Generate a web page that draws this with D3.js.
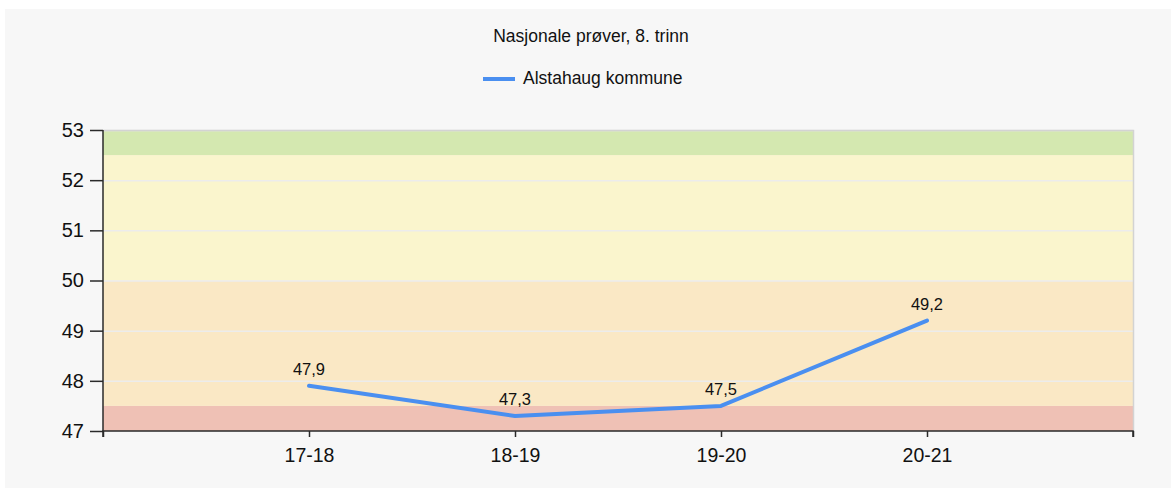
<!DOCTYPE html>
<html>
<head>
<meta charset="utf-8">
<script src="https://cdn.jsdelivr.net/npm/d3@7"></script>
<style>
  html, body { margin: 0; padding: 0; background: #fff; }
  svg { display: block; font-family: "Liberation Sans", Arial, sans-serif; }
</style>
</head>
<body>
<svg id="chart" width="1171" height="488"></svg>
<script>
// Data
const title = "Nasjonale prøver, 8. trinn";
const seriesName = "Alstahaug kommune";
const years = ["17-18", "18-19", "19-20", "20-21"];
const values = [47.9, 47.3, 47.5, 49.2];
const yTicks = [47, 48, 49, 50, 51, 52, 53];
// colored background bands (from, to, colour)
const bandFrom = [47, 47.5, 50, 52.5];
const bandTo = [47.5, 50, 52.5, 53];
const bandColors = ["#efc1b5", "#fae8c5", "#faf5cd", "#d4e8b0"];

const svg = d3.select("#chart");
const width = +svg.attr("width");
const height = +svg.attr("height");

// light grey panel
svg.append("rect")
  .attr("x", 5).attr("y", 9)
  .attr("width", width - 5).attr("height", height - 9)
  .attr("fill", "#f7f7f7");

const plotLeft = 103, plotRight = 1133, plotTop = 130, plotBottom = 431;

// blank slots at both ends so the categories sit inside the axis
const x = d3.scalePoint()
  .domain(["_a", ...years, "_b"])
  .range([plotLeft, plotRight]);

const y = d3.scaleLinear()
  .domain([47, 53])
  .range([plotBottom, plotTop]);

// bands
svg.selectAll("rect.band")
  .data(bandFrom)
  .enter()
  .append("rect")
  .attr("class", "band")
  .attr("x", plotLeft)
  .attr("width", plotRight - plotLeft)
  .attr("y", (d, i) => y(bandTo[i]))
  .attr("height", (d, i) => y(d) - y(bandTo[i]))
  .attr("fill", (d, i) => bandColors[i]);

// gridlines
svg.selectAll("line.grid")
  .data(yTicks.slice(1))
  .enter()
  .append("line")
  .attr("class", "grid")
  .attr("x1", plotLeft).attr("x2", plotRight)
  .attr("y1", d => y(d) + 0.5).attr("y2", d => y(d) + 0.5)
  .attr("stroke", "#ececec")
  .attr("stroke-width", 1.5);

// top and right frame
svg.append("path")
  .attr("d", `M${plotLeft},${plotTop + 0.5}H${plotRight + 0.5}V${plotBottom}`)
  .attr("fill", "none")
  .attr("stroke", "#d3d3d3")
  .attr("stroke-width", 1.5);

// y axis
const yAxis = svg.append("g")
  .attr("transform", `translate(${plotLeft},0)`)
  .call(d3.axisLeft(y).tickValues(yTicks).tickSize(13).tickPadding(6).tickFormat(d3.format("d")));
yAxis.selectAll("text")
  .attr("font-size", 20)
  .attr("fill", "#111")
  .attr("font-family", "Liberation Sans, Arial, sans-serif");
yAxis.selectAll("line, path").attr("stroke", "#2a2a2a").attr("stroke-width", 1.5);
yAxis.select("path").attr("d", `M0,${plotTop}V${plotBottom}`);

// x axis
const xAxis = svg.append("g")
  .attr("transform", `translate(0,${plotBottom})`)
  .call(d3.axisBottom(x).tickSize(6).tickPadding(11).tickFormat(d => d.startsWith("_") ? "" : d));
xAxis.selectAll("text")
  .attr("font-size", 19.5)
  .attr("fill", "#111")
  .attr("font-family", "Liberation Sans, Arial, sans-serif");
xAxis.selectAll("line, path").attr("stroke", "#2a2a2a").attr("stroke-width", 1.5);
xAxis.select("path").attr("d", `M${plotLeft},6V0H${plotRight}V6`);

// line
const line = d3.line()
  .x((d, i) => x(years[i]))
  .y(d => y(d));

svg.append("path")
  .datum(values)
  .attr("d", line)
  .attr("fill", "none")
  .attr("stroke", "#4a8ff0")
  .attr("stroke-width", 4)
  .attr("stroke-linecap", "round")
  .attr("stroke-linejoin", "round");

// value labels
svg.selectAll("text.val")
  .data(values)
  .enter()
  .append("text")
  .attr("class", "val")
  .attr("x", (d, i) => x(years[i]))
  .attr("y", d => y(d) - 11)
  .attr("text-anchor", "middle")
  .attr("font-size", 16.5)
  .attr("fill", "#111")
  .text(d => d3.format(".1f")(d).replace(".", ","));

// title
svg.append("text")
  .attr("x", 591)
  .attr("y", 41.5)
  .attr("text-anchor", "middle")
  .attr("font-size", 17.5)
  .attr("fill", "#111")
  .text(title);

// legend
svg.append("line")
  .attr("x1", 483).attr("x2", 515)
  .attr("y1", 79).attr("y2", 79)
  .attr("stroke", "#4a8ff0")
  .attr("stroke-width", 4);
svg.append("text")
  .attr("x", 523)
  .attr("y", 84)
  .attr("font-size", 17.5)
  .attr("fill", "#111")
  .text(seriesName);
</script>
</body>
</html>
